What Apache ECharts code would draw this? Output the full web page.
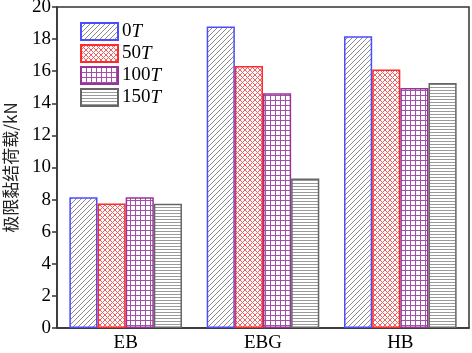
<!DOCTYPE html>
<html>
<head>
<meta charset="UTF-8">
<script src="https://cdn.jsdelivr.net/npm/echarts@6/dist/echarts.min.js"></script>
<style>
  html, body { margin: 0; padding: 0; background: #fff; }
  #main { width: 472px; height: 353px; }
</style>
</head>
<body>
<div id="main"></div>
<script>
var categories = ['EB', 'EBG', 'HB'];
var seriesNames = ['0', '50', '100', '150'];
var v0T = [8.15, 18.78, 18.18];
var v50T = [7.76, 16.33, 16.1];
var v100T = [8.15, 14.62, 14.95];
var v150T = [7.74, 9.32, 15.26];
var yTicks = [0, 2, 4, 6, 8, 10, 12, 14, 16, 18, 20];

// small canvas patterns for the hatches
function hatch(kind, color) {
  var c = document.createElement('canvas');
  var s = kind == 'h' ? 3 : 5;
  c.width = s; c.height = s;
  var g = c.getContext('2d');
  g.fillStyle = '#fff';
  g.fillRect(0, 0, s, s);
  g.strokeStyle = color;
  g.lineWidth = 1;
  g.beginPath();
  if (kind == 'd') {
    g.moveTo(0, s); g.lineTo(s, 0);
    g.moveTo(-1, 1); g.lineTo(1, -1);
    g.moveTo(s - 1, s + 1); g.lineTo(s + 1, s - 1);
  } else if (kind == 'x') {
    g.moveTo(0, s); g.lineTo(s, 0);
    g.moveTo(0, 0); g.lineTo(s, s);
  } else if (kind == 'g') {
    g.moveTo(0, 0.5); g.lineTo(s, 0.5);
    g.moveTo(0.5, 0); g.lineTo(0.5, s);
  } else {
    g.moveTo(0, 0.5); g.lineTo(s, 0.5);
  }
  g.stroke();
  return { image: c, repeat: 'repeat' };
}

var styles = [
  { color: hatch('d', '#8a8a8a'), borderColor: '#4b4bff' },
  { color: hatch('x', '#f06060'), borderColor: '#ff2a2a' },
  { color: hatch('g', '#a050a8'), borderColor: '#993399' },
  { color: hatch('h', '#9a9a9a'), borderColor: '#666666' }
];
var values = [v0T, v50T, v100T, v150T];

var series = seriesNames.map(function (n, i) {
  return {
    name: n,
    type: 'bar',
    data: values[i],
    barGap: '0%',
    barCategoryGap: '18%',
    itemStyle: {
      color: styles[i].color,
      borderColor: styles[i].borderColor,
      borderWidth: 1.5
    }
  };
});

var serif = 'Liberation Serif';
var chart = echarts.init(document.getElementById('main'));
chart.setOption({
  animation: false,
  grid: {
    left: 57, right: 3, top: 7, bottom: 25,
    outerBoundsMode: 'none',
    show: true, borderColor: '#333', borderWidth: 1.5
  },
  legend: {
    orient: 'vertical',
    left: 80, top: 22, padding: 0,
    icon: 'rect',
    itemWidth: 37, itemHeight: 17, itemGap: 3,
    data: seriesNames,
    formatter: function (n) { return n + '{i|T}'; },
    textStyle: {
      fontFamily: serif, fontSize: 19, color: '#000', padding: [0, 0, 0, -1],
      rich: { i: { fontFamily: serif, fontSize: 19, fontStyle: 'italic', color: '#000' } }
    }
  },
  xAxis: {
    type: 'category',
    data: categories,
    axisLine: { lineStyle: { color: '#333', width: 1.5 } },
    axisTick: { alignWithLabel: true, length: 5, lineStyle: { color: '#333', width: 1.5 } },
    axisLabel: { fontFamily: serif, fontSize: 19, color: '#000', margin: 6 }
  },
  yAxis: {
    type: 'value',
    min: yTicks[0], max: yTicks[yTicks.length - 1], interval: 2,
    name: '极限黏结荷载/kN',
    nameLocation: 'middle',
    nameGap: 38,
    nameTextStyle: { fontFamily: 'Noto Sans CJK SC', fontSize: 17, color: '#222' },
    axisLine: { show: true, lineStyle: { color: '#333', width: 1.5 } },
    axisTick: { show: true, length: 5, lineStyle: { color: '#333', width: 1.5 } },
    axisLabel: { fontFamily: serif, fontSize: 19, color: '#000', margin: 6 },
    splitLine: { show: false }
  },
  series: series
});
</script>
</body>
</html>
